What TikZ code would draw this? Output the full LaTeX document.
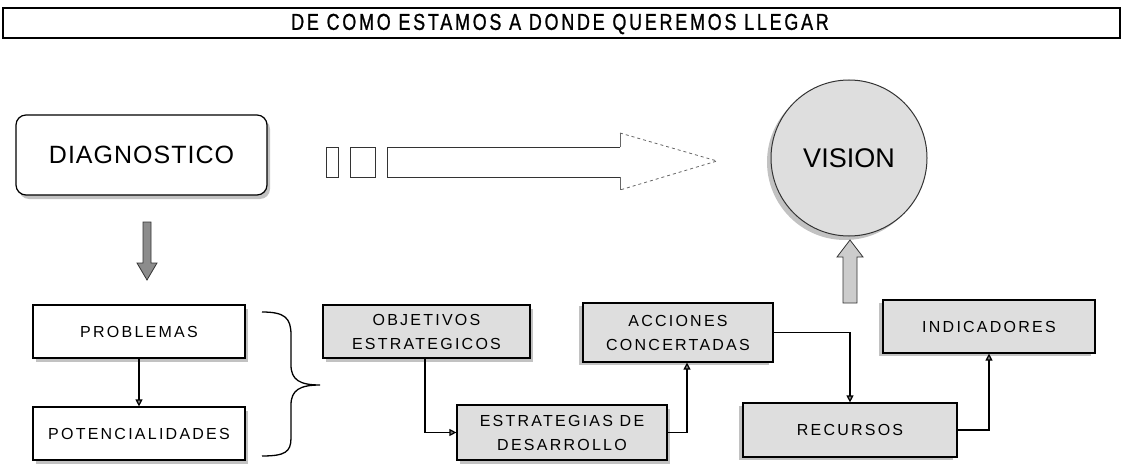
\documentclass[tikz,border=0pt]{standalone}
\usepackage{fontspec}
\setmainfont{Liberation Sans}
\newfontfamily\titlefont[FakeStretch=0.78,LetterSpace=12,FakeBold=1]{Liberation Sans}
\newfontfamily\boxfont[LetterSpace=14]{Liberation Sans}
\newfontfamily\bigfont[LetterSpace=4]{Liberation Sans}
\usetikzlibrary{arrows.meta,shadows,calc}
\tikzset{
  every picture/.style={x=1pt,y=-1pt},
  boxw/.style={draw=black,line width=1.2pt,fill=white,align=center,inner sep=0pt,
    font=\boxfont\fontsize{16}{24}\selectfont},
  boxg/.style={boxw,fill=black!13},
  shr/.style={drop shadow={shadow xshift=3pt,shadow yshift=-4pt,fill=black!40,opacity=0.6}},
  shl/.style={drop shadow={shadow xshift=-4pt,shadow yshift=-3pt,fill=black!40,opacity=0.6}},
  conn/.style={line width=1.2pt,-{Triangle[length=7pt,width=7pt,fill=black!50]}},
  blockarr/.style={draw=black!80,line width=0.8pt},
}
\begin{document}
\begin{tikzpicture}
\useasboundingbox (0,0) rectangle (1122,468);
% title
\node[draw=black,line width=1.2pt,minimum width=1117pt,minimum height=30pt,inner sep=0pt] (title) at (561.5,23) {};
\node[font=\titlefont\fontsize{23}{24}\selectfont] (titletext) at (560,24) {DE COMO ESTAMOS A DONDE QUEREMOS LLEGAR};
% diagnostico
\node[draw=black,line width=1.2pt,fill=white,rounded corners=10pt,minimum width=251pt,minimum height=80pt,inner sep=0pt,
  drop shadow={shadow xshift=3pt,shadow yshift=-4pt,fill=black!40,opacity=0.6},
  font=\bigfont\fontsize{25}{28}\selectfont] (diag) at (141.5,155) {DIAGNOSTICO};
% vision
\node[circle,draw=black!80,line width=1pt,fill=black!13,minimum size=156pt,inner sep=0pt,
  drop shadow={shadow xshift=-4pt,shadow yshift=-4pt,fill=black!40,opacity=0.6},
  font=\fontsize{27}{30}\selectfont] (vision) at (849,158) {VISION};
% big arrow with small rects
\draw[blockarr] (326,147) rectangle (338,177);
\draw[blockarr] (350,147) rectangle (375,177);
\draw[blockarr] (620,147) -- (387,147) -- (387,177) -- (620,177);
\draw[draw=black!60,line width=0.8pt] (620,147) -- (620,133);
\draw[draw=black!60,line width=0.8pt] (620,177) -- (620,190);
\draw[draw=black!60,line width=0.8pt,dashed] (620,133) -- (717,161) -- (620,190);
% down block arrow
\draw[blockarr,fill=black!45] (143,222) -- (151,222) -- (151,263) -- (157,263) -- (147,280) -- (137,263) -- (143,263) -- cycle;
% up block arrow
\draw[blockarr,fill=black!20] (843,303) -- (857,303) -- (857,257) -- (863,257) -- (850,240) -- (837,257) -- (843,257) -- cycle;
% bottom boxes
\node[boxw,shr,minimum width=212pt,minimum height=53pt] (prob) at (139,331.5) {PROBLEMAS};
\node[boxw,shr,minimum width=212pt,minimum height=53pt] (pot) at (139,433.5) {POTENCIALIDADES};
\node[boxg,shr,minimum width=207pt,minimum height=53pt] (obj) at (426.5,331.5) {OBJETIVOS\\ESTRATEGICOS};
\node[boxg,shr,minimum width=210pt,minimum height=55pt] (est) at (562,432.5) {ESTRATEGIAS DE\\DESARROLLO};
\node[boxg,shl,minimum width=190pt,minimum height=59pt] (acc) at (678,332.5) {ACCIONES\\CONCERTADAS};
\node[boxg,shl,minimum width=214pt,minimum height=54pt] (rec) at (850,430) {RECURSOS};
\node[boxg,shl,minimum width=212pt,minimum height=53pt] (ind) at (989,326.5) {INDICADORES};
% brace
\draw[line width=1.3pt] (262,312) .. controls (285,312) and (291,318) .. (291,335) -- (291,365)
  .. controls (291,380) and (300,385) .. (320,385)
  .. controls (300,385) and (291,390) .. (291,405) -- (291,438)
  .. controls (291,452) and (285,456) .. (262,456);
% connectors
\coordinate (c1) at (425,0);
\coordinate (c2) at (687,0);
\draw[conn] (prob.south) -- (pot.north);
\draw[conn] (obj.south -| c1) |- (est.west);
\draw[conn] (est.east) -| (acc.south -| c2);
\draw[conn] (acc.east) -| (rec.north);
\draw[conn] (rec.east) -| (ind.south);
\end{tikzpicture}
\end{document}
